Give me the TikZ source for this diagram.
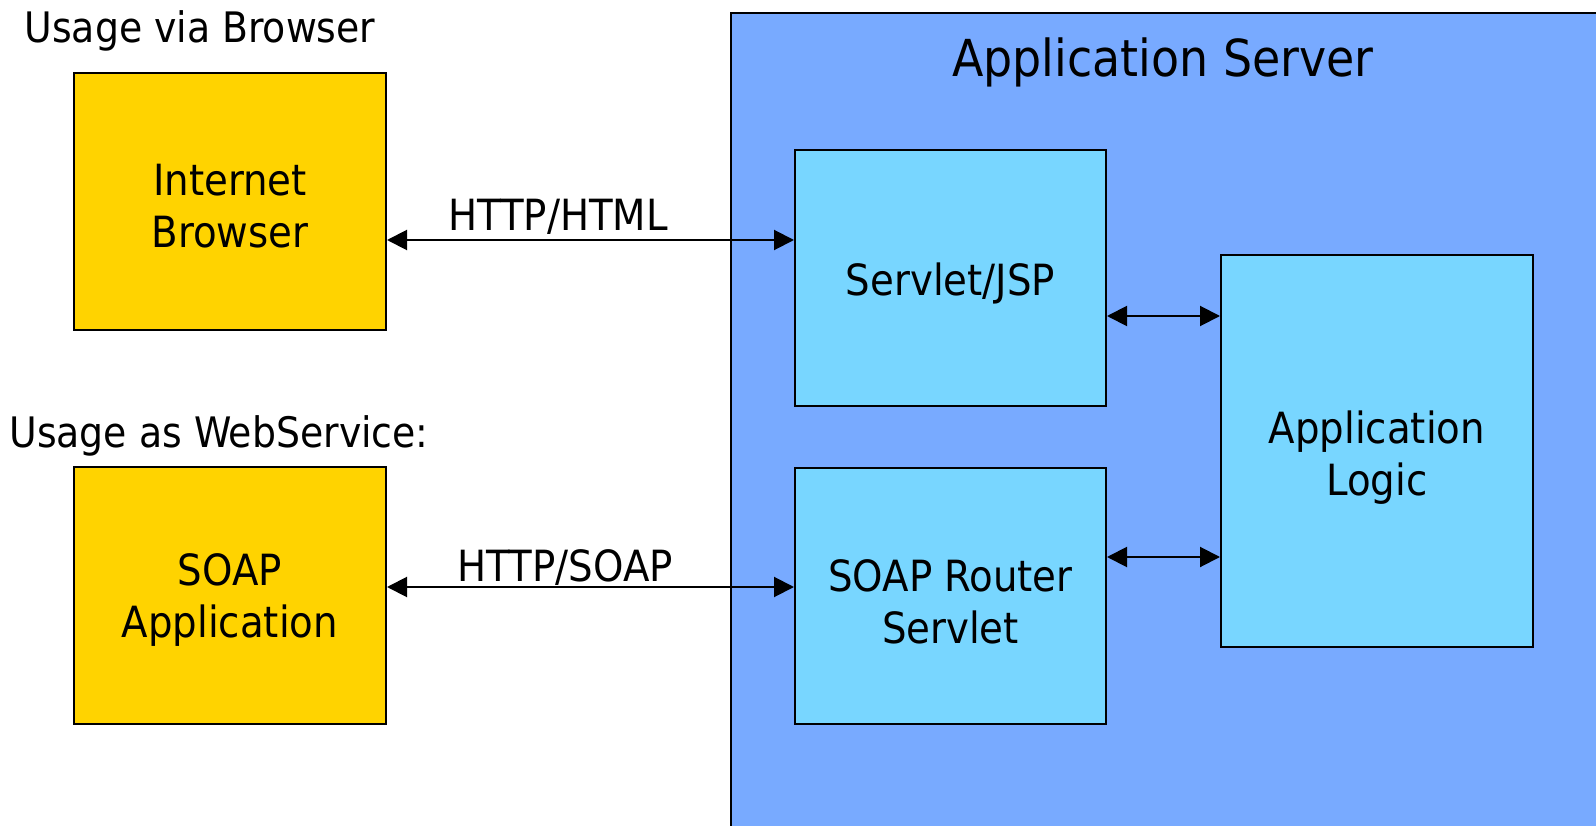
\documentclass[tikz,border=0pt]{standalone}
\usepackage{fontspec}
\setmainfont{DejaVu Sans Condensed}
\usetikzlibrary{arrows.meta}
\definecolor{ygold}{RGB}{255,211,0}
\definecolor{srvblue}{RGB}{120,170,255}
\definecolor{boxblue}{RGB}{120,214,255}
\tikzset{
  txt/.style={font=\fontsize{43}{52}\selectfont, inner sep=0pt, align=center},
  boxtxt/.style={txt, yshift=-5pt},
  clientbox/.style={draw=black, line width=2pt, fill=ygold, minimum width=312pt, minimum height=257pt},
  compbox/.style={draw=black, line width=2pt, fill=boxblue, minimum width=311pt, minimum height=256pt},
  arr/.style={line width=2pt, {Triangle[length=20pt,width=20pt]}-{Triangle[length=20pt,width=20pt]}}
}
\begin{document}
\begin{tikzpicture}[x=1pt,y=-1pt]
\useasboundingbox (0,0) rectangle (1596,826);
\clip (0,0) rectangle (1596,826);
% server
\draw[line width=2pt, fill=srvblue] (731,13) rectangle (1640,860);
\node[txt, font=\fontsize{51}{60}\selectfont, anchor=base] (title) at (1163,77) {Application Server};
% labels
\node[txt, font=\fontsize{42}{52}\selectfont, anchor=base] (ubrowser) at (200,43) {Usage via Browser};
\node[txt, font=\fontsize{42}{52}\selectfont, anchor=base] (uws) at (219,447) {Usage as WebService:};
% boxes
\node[clientbox, label={[boxtxt]center:{Internet\\Browser}}] (browser) at (230,201.5) {};
\node[clientbox, label={[boxtxt]center:{SOAP\\Application}}] (soapapp) at (230,595.5) {};
\node[compbox, label={[boxtxt]center:{Servlet/JSP}}] (servlet) at (950.5,278) {};
\node[compbox, label={[boxtxt, yshift=-1pt]center:{SOAP Router\\Servlet}}] (router) at (950.5,595.5) {};
\node[compbox, minimum width=312pt, minimum height=392pt, label={[boxtxt, yshift=-2pt]center:{Application\\Logic}}] (logic) at (1377,451) {};
% arrow heights
\coordinate (yA) at (0,240);
\coordinate (yB) at (0,587);
\coordinate (yC) at (0,316);
\coordinate (yD) at (0,557);
\draw[arr] (browser.east |- yA) -- (servlet.west |- yA);
\draw[arr] (soapapp.east |- yB) -- (router.west |- yB);
\draw[arr] (servlet.east |- yC) -- (logic.west |- yC);
\draw[arr] (router.east |- yD) -- (logic.west |- yD);
\node[txt, anchor=base] (lhtml) at (558,231) {HTTP/HTML};
\node[txt, anchor=base] (lsoap) at (565,581) {HTTP/SOAP};
\end{tikzpicture}
\end{document}
